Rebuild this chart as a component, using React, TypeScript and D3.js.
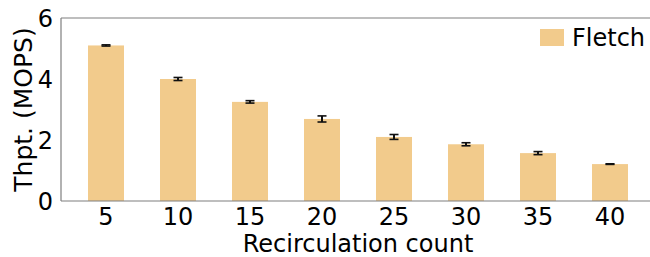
import * as d3 from "d3";
import React, { useEffect, useRef } from "react";

const categories = ["5", "10", "15", "20", "25", "30", "35", "40"];
const throughput = [5.1, 4.0, 3.25, 2.69, 2.1, 1.86, 1.57, 1.21];
const errors = [0.02, 0.05, 0.04, 0.1, 0.08, 0.05, 0.05, 0.01];
const yTicks = [0, 2, 4, 6];
const seriesName = "Fletch";

const W = 650;
const H = 257;
const FONT = "DejaVu Sans, sans-serif";
const BAR = "#f2cb8c";

const App = () => {
  const ref = useRef<SVGSVGElement>(null);

  useEffect(() => {
    const svg = d3.select(ref.current);
    svg.selectAll("*").remove();

    const left = 61;
    const top = 18;
    const bottom = 201;

    // category index -> px, 72px per step
    const x = d3.scaleLinear().domain([-0.625, 7.9]).range([left, left + 8.525 * 72]);
    const y = d3.scaleLinear().domain([0, 6]).range([bottom, top]);
    const bw = 36;

    const g = svg.append("g");

    g.selectAll("rect.bar")
      .data(throughput)
      .join("rect")
      .attr("class", "bar")
      .attr("x", (_d, i) => x(i) - bw / 2)
      .attr("width", bw)
      .attr("y", (d) => y(d))
      .attr("height", (d) => y(0) - y(d))
      .attr("fill", BAR);

    // error bars
    const eb = g.selectAll("g.err").data(throughput).join("g").attr("class", "err");
    eb.append("line")
      .attr("x1", (_d, i) => x(i))
      .attr("x2", (_d, i) => x(i))
      .attr("y1", (d, i) => y(d + errors[i]))
      .attr("y2", (d, i) => y(d - errors[i]))
      .attr("stroke", "#111")
      .attr("stroke-width", 2);
    [1, -1].forEach((s) => {
      eb.append("line")
        .attr("x1", (_d, i) => x(i) - 4.5)
        .attr("x2", (_d, i) => x(i) + 4.5)
        .attr("y1", (d, i) => y(d + s * errors[i]))
        .attr("y2", (d, i) => y(d + s * errors[i]))
        .attr("stroke", "#111")
        .attr("stroke-width", 1.6);
    });

    // spines
    g.append("line").attr("x1", left).attr("x2", W).attr("y1", top).attr("y2", top)
      .attr("stroke", "#7f7f7f").attr("stroke-width", 1.2);
    g.append("line").attr("x1", left).attr("x2", W).attr("y1", bottom).attr("y2", bottom)
      .attr("stroke", "#7f7f7f").attr("stroke-width", 1.2);
    g.append("line").attr("x1", left).attr("x2", left).attr("y1", top).attr("y2", bottom)
      .attr("stroke", "#7f7f7f").attr("stroke-width", 1.2);

    // y tick labels
    g.selectAll("text.yt")
      .data(yTicks)
      .join("text")
      .attr("class", "yt")
      .attr("x", left - 8)
      .attr("y", (d) => y(d))
      .attr("dy", "0.36em")
      .attr("text-anchor", "end")
      .attr("font-family", FONT)
      .attr("font-size", 24)
      .text((d) => d);

    // x tick labels
    g.selectAll("text.xt")
      .data(categories)
      .join("text")
      .attr("class", "xt")
      .attr("x", (_d, i) => x(i))
      .attr("y", 225)
      .attr("text-anchor", "middle")
      .attr("font-family", FONT)
      .attr("font-size", 24)
      .text((d) => d);

    g.append("text")
      .attr("x", (x(0) + x(7)) / 2)
      .attr("y", 252)
      .attr("text-anchor", "middle")
      .attr("font-family", FONT)
      .attr("font-size", 24)
      .text("Recirculation count");

    g.append("text")
      .attr("transform", `translate(32,${(top + bottom) / 2}) rotate(-90)`)
      .attr("text-anchor", "middle")
      .attr("font-family", FONT)
      .attr("font-size", 25)
      .text("Thpt. (MOPS)");

    // legend
    g.append("rect").attr("x", 540).attr("y", 29).attr("width", 24).attr("height", 17).attr("fill", BAR);
    g.append("text")
      .attr("x", 572)
      .attr("y", 46)
      .attr("font-family", FONT)
      .attr("font-size", 24)
      .text(seriesName);
  }, []);

  return (
    <svg
      ref={ref}
      width={W}
      height={H}
      style={{ position: "absolute", left: 0, top: 0, background: "#fff" }}
    />
  );
};

export default App;
